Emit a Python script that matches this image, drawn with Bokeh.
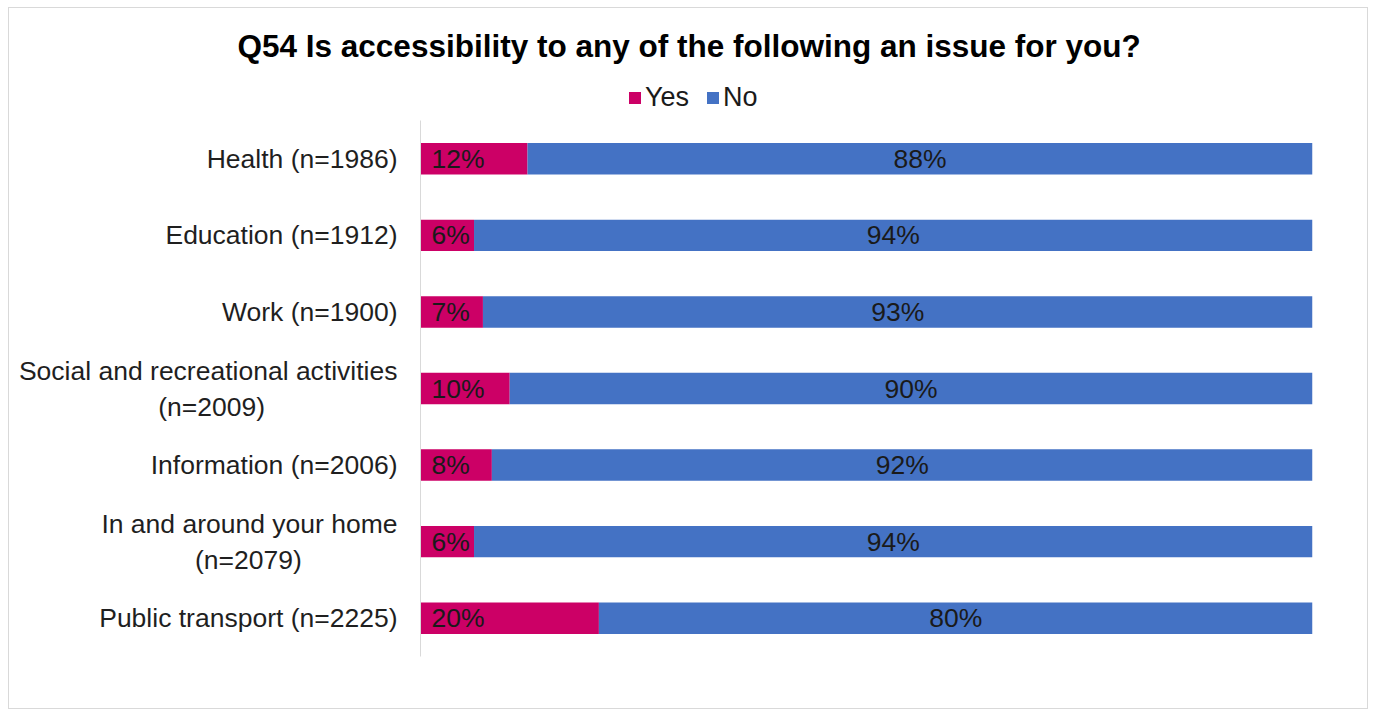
from bokeh.plotting import figure
from bokeh.layouts import column
from bokeh.models import (FactorRange, Range1d, ColumnDataSource, Legend,
                          LegendItem, Title)
from bokeh.core.properties import value
from bokeh.embed import file_html
from bokeh.resources import INLINE

# ---- data ----
NB = "\u00a0"
categories = [
    "Health (n=1986)",
    "Education (n=1912)",
    "Work (n=1900)",
    "Social and recreational activities\n(n=2009)" + NB * 18,
    "Information (n=2006)",
    "In and around your home\n(n=2079)" + NB * 13,
    "Public transport (n=2225)",
]
yes_values = [12, 6, 7, 10, 8, 6, 20]
no_values = [88, 94, 93, 90, 92, 94, 80]
series_names = ["Yes", "No"]
title_text = "Q54 Is accessibility to any of the following an issue for you?"

YES_COLOR = "#CC0066"
NO_COLOR = "#4472C4"
FONT = "Liberation Sans"
FS = "26.5px"

src = ColumnDataSource(dict(
    cat=categories,
    yes=yes_values,
    no=no_values,
    total=[a + b for a, b in zip(yes_values, no_values)],
    yes_lbl=[f"{v}%" for v in yes_values],
    no_lbl=[f"{v}%" for v in no_values],
    no_mid=[a + b / 2 for a, b in zip(yes_values, no_values)],
    zero=[0] * len(categories),
))

# ---------------- header: title + legend ----------------
hdr = figure(width=1360, height=112, x_range=Range1d(0, 1), y_range=Range1d(0, 1),
             output_backend="svg", toolbar_location=None, min_border=0, title=None)
hdr.axis.visible = False
hdr.grid.visible = False
hdr.outline_line_color = None
# legend proxies (zero-size bars, only used for the legend swatches)
proxy = ColumnDataSource(dict(y=[0], left=[0], right=[0]))
h_yes = hdr.hbar(y="y", left="left", right="right", height=0, source=proxy,
                 fill_color=YES_COLOR, line_color=None)
h_no = hdr.hbar(y="y", left="left", right="right", height=0, source=proxy,
                fill_color=NO_COLOR, line_color=None)

hdr.add_layout(Title(text=title_text, align="left", offset=-183,
                     vertical_align="middle", standoff=36,
                     text_font=FONT, text_font_size="31.5px", text_font_style="bold",
                     text_color="#000000"), "above")

legend = Legend(
    items=[LegendItem(label=series_names[0], renderers=[h_yes]),
           LegendItem(label=series_names[1], renderers=[h_no])],
    orientation="horizontal", location=(207, 7),
    glyph_width=15, glyph_height=15, label_standoff=3, spacing=16,
    label_height=30, padding=0, margin=0, border_line_color=None,
    background_fill_alpha=0,
    label_text_font=FONT, label_text_font_size="27px", label_text_color="#1a1a1a",
)
hdr.add_layout(legend, "center")

# ---------------- main chart ----------------
p = figure(
    width=1360, height=588,
    y_range=FactorRange(factors=list(reversed(categories)), range_padding=0),
    x_range=Range1d(0, 100),
    output_backend="svg", toolbar_location=None,
    min_border_left=411, min_border_right=55,
    min_border_top=0, min_border_bottom=52,
)
p.outline_line_color = None
p.border_fill_color = "white"
p.background_fill_color = "white"

p.hbar(y="cat", left="zero", right="yes", height=0.41, source=src,
       fill_color=YES_COLOR, line_color=None)
p.hbar(y="cat", left="yes", right="total", height=0.41, source=src,
       fill_color=NO_COLOR, line_color=None)

# data labels
p.text(x="zero", y="cat", text="yes_lbl", source=src, x_offset=11,
       text_align="left", text_baseline="middle",
       text_font=value(FONT), text_font_size=FS, text_color="#1a1a1a")
p.text(x="no_mid", y="cat", text="no_lbl", source=src,
       text_align="center", text_baseline="middle",
       text_font=value(FONT), text_font_size=FS, text_color="#1a1a1a")

# axes
p.xaxis.visible = False
p.xgrid.visible = False
p.ygrid.visible = False
ax = p.yaxis[0]
ax.axis_line_color = "#d9d9d9"
ax.axis_line_width = 1
ax.major_tick_line_color = None
ax.minor_tick_line_color = None
ax.major_label_standoff = 17
ax.major_label_text_font = FONT
ax.major_label_text_font_size = FS
ax.major_label_text_color = "#1f1f1f"

layout = column(hdr, p, spacing=0)
layout.styles = {"border": "1px solid #d9d9d9", "margin-left": "8px",
                 "margin-top": "7px", "width": "1360px"}

open("out.html", "w").write(file_html(layout, INLINE))
